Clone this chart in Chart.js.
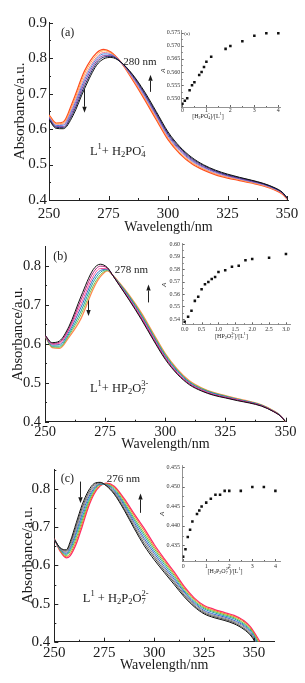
<!DOCTYPE html>
<html lang="en">
<head>
<meta charset="UTF-8">
<title>UV-vis titration of L1</title>
<script src="https://cdn.jsdelivr.net/npm/chart.js"></script>
<style>
    body { margin: 0; padding: 0; background: #fff; }
    #wrap { position: relative; width: 305px; height: 683px; overflow: hidden; background: #fff; }
    canvas { position: absolute; }
</style>
</head>
<body>
<div id="wrap">
    <canvas id="mainA" width="305" height="238" style="left:0;top:0"></canvas>
    <canvas id="mainB" width="305" height="222" style="left:0;top:234px"></canvas>
    <canvas id="mainC" width="305" height="227" style="left:0;top:456px"></canvas>
    <canvas id="insetA" width="150" height="110" style="left:150px;top:20px"></canvas>
    <canvas id="insetB" width="155" height="106" style="left:150px;top:236px"></canvas>
    <canvas id="insetC" width="150" height="125" style="left:150px;top:455px"></canvas>
</div>
<script>
// tick labels shared by the three spectra
const wlTicks = [250, 275, 300, 325, 350];
const absTicks = [0.4, 0.5, 0.6, 0.7, 0.8, 0.9];

// ---- panel (a): L1 + H2PO4-  (first addition -> last addition)
const wlA = [250, 253, 256, 260, 265, 270, 273, 276, 280, 285, 290, 295, 300, 305, 310, 315, 320, 325, 330, 335, 340, 345, 348, 350.5];
const specA = [
    [.626,.602,.601,.637,.715,.780,.798,.802,.790,.755,.707,.650,.592,.550,.520,.499,.484,.473,.464,.456,.447,.434,.422,.402],
    [.628,.605,.604,.644,.723,.786,.803,.805,.790,.753,.703,.646,.588,.547,.517,.497,.482,.471,.463,.455,.446,.433,.421,.402],
    [.631,.607,.607,.651,.732,.792,.807,.807,.790,.750,.700,.642,.585,.543,.514,.494,.480,.469,.461,.453,.445,.432,.420,.401],
    [.633,.610,.611,.658,.740,.798,.812,.810,.790,.748,.696,.639,.581,.540,.511,.492,.478,.468,.460,.452,.444,.431,.420,.401],
    [.635,.612,.614,.664,.748,.803,.816,.812,.790,.745,.692,.635,.577,.537,.508,.489,.475,.466,.458,.451,.442,.430,.419,.400],
    [.638,.615,.617,.671,.757,.809,.821,.815,.790,.743,.689,.631,.574,.533,.505,.487,.473,.464,.457,.449,.441,.429,.418,.400],
    [.640,.617,.620,.678,.765,.815,.825,.817,.790,.740,.685,.627,.570,.530,.502,.484,.471,.462,.455,.448,.440,.428,.417,.399]
];
const colorsA = ['#111111', '#1f2a6b', '#8a3fa0', '#4a7fe0', '#f08a9a', '#ffa040', '#ff4a20'];
const ratioA = [0, 0.1, 0.2, 0.3, 0.4, 0.5, 0.7, 0.8, 0.9, 1.0, 1.2, 1.8, 2.0, 2.5, 3.0, 3.5, 4.0];
const insetA = [0.5479, 0.5491, 0.5500, 0.5531, 0.5550, 0.5561, 0.5589, 0.5600, 0.5619, 0.5639, 0.5658, 0.5688, 0.5699, 0.5717, 0.5738, 0.5747, 0.5747];
const ratioTicksA = [0, 1, 2, 3, 4];
const insetTicksA = [0.550, 0.555, 0.560, 0.565, 0.570, 0.575];

// ---- panel (b): L1 + HP2O7 3-
const wlB = [250, 253, 256, 260, 265, 270, 273, 276, 278, 281, 285, 290, 295, 300, 305, 310, 315, 320, 325, 330, 335, 340, 345, 348, 350];
const specB = [
    [.622,.603,.607,.645,.722,.790,.804,.795,.777,.749,.712,.663,.610,.560,.522,.495,.479,.468,.461,.454,.448,.440,.426,.414,.400],
    [.622,.601,.604,.640,.713,.782,.799,.794,.777,.750,.714,.666,.613,.563,.524,.497,.480,.469,.462,.455,.449,.441,.426,.414,.400],
    [.621,.599,.601,.636,.703,.773,.793,.792,.777,.751,.716,.669,.616,.565,.526,.498,.482,.470,.463,.456,.449,.441,.427,.414,.400],
    [.621,.597,.598,.631,.694,.765,.788,.791,.777,.752,.719,.672,.619,.568,.529,.500,.483,.472,.464,.457,.450,.442,.427,.415,.400],
    [.621,.594,.594,.626,.684,.757,.783,.790,.777,.754,.721,.674,.621,.570,.531,.502,.484,.473,.465,.457,.451,.442,.427,.415,.400],
    [.620,.592,.591,.622,.675,.748,.777,.788,.777,.755,.723,.677,.624,.573,.533,.503,.486,.474,.466,.458,.451,.443,.428,.415,.400],
    [.620,.590,.588,.617,.665,.740,.772,.787,.777,.756,.725,.680,.627,.575,.535,.505,.487,.475,.467,.459,.452,.443,.428,.415,.400]
];
const colorsB = ['#111111', '#b0207a', '#ff4f9a', '#2f6fc0', '#1fa3a0', '#7cc24a', '#ff8a50'];
const ratioB = [0, 0.1, 0.2, 0.3, 0.4, 0.5, 0.6, 0.7, 0.8, 0.9, 1.0, 1.2, 1.4, 1.6, 1.8, 2.0, 2.5, 3.0];
const insetB = [0.5378, 0.5418, 0.5466, 0.5545, 0.5579, 0.5638, 0.5679, 0.5697, 0.5721, 0.5737, 0.5777, 0.5791, 0.5820, 0.5828, 0.5871, 0.5882, 0.5892, 0.5922];
const ratioTicksB = [0, 0.5, 1.0, 1.5, 2.0, 2.5, 3.0];
const insetTicksB = [0.54, 0.55, 0.56, 0.57, 0.58, 0.59, 0.60];

// ---- panel (c): L1 + H2P2O7 2-
const wlC = [250, 253, 256, 258, 261, 264, 267, 270, 273, 276, 280, 285, 290, 295, 300, 305, 310, 315, 320, 325, 330, 335, 340, 345, 348, 350, 353];
const specC = [
    [.668,.646,.641,.663,.712,.760,.795,.815,.818,.809,.787,.745,.697,.652,.615,.582,.550,.518,.492,.473,.463,.456,.447,.432,.418,.403,.360],
    [.668,.645,.638,.658,.704,.752,.789,.811,.817,.810,.790,.749,.702,.658,.621,.587,.555,.522,.495,.476,.466,.459,.450,.435,.421,.406,.366],
    [.669,.643,.635,.652,.696,.744,.783,.807,.815,.811,.793,.754,.708,.665,.626,.592,.559,.526,.499,.479,.469,.462,.453,.439,.424,.409,.371],
    [.669,.642,.632,.647,.688,.736,.777,.803,.814,.812,.796,.758,.713,.671,.632,.597,.564,.530,.502,.482,.472,.465,.456,.442,.427,.412,.377],
    [.669,.641,.629,.642,.681,.727,.770,.800,.813,.812,.799,.762,.719,.678,.638,.603,.569,.533,.505,.486,.476,.468,.460,.445,.431,.416,.383],
    [.669,.640,.626,.637,.673,.719,.764,.796,.812,.813,.802,.766,.724,.684,.644,.608,.574,.537,.508,.489,.479,.471,.463,.448,.434,.419,.389],
    [.670,.638,.623,.631,.665,.711,.758,.792,.810,.814,.805,.771,.730,.691,.649,.613,.578,.541,.512,.492,.482,.474,.466,.452,.437,.422,.394],
    [.670,.637,.620,.626,.657,.703,.752,.788,.809,.816,.808,.775,.735,.697,.655,.618,.583,.545,.515,.495,.485,.477,.469,.455,.440,.425,.400]
];
const colorsC = ['#111111', '#555555', '#8c8c8c', '#3a5fcf', '#24a7a7', '#6cbf3c', '#f07a20', '#ff2a6a'];
const ratioC = [0, 0.1, 0.2, 0.3, 0.4, 0.6, 0.7, 0.8, 1.0, 1.2, 1.4, 1.6, 1.8, 2.0, 2.5, 3.0, 3.5, 4.0];
const insetC = [0.4321, 0.4340, 0.4371, 0.4390, 0.4411, 0.4430, 0.4439, 0.4449, 0.4459, 0.4469, 0.4479, 0.4479, 0.4489, 0.4489, 0.4489, 0.4499, 0.4499, 0.4489];
const ratioTicksC = [0, 1, 2, 3, 4];
const insetTicksC = [0.435, 0.440, 0.445, 0.450, 0.455];

const serif = 'Liberation Serif';
Chart.defaults.font.family = serif;
Chart.defaults.color = '#1a1a1a';

// text notes and arrows per canvas (data coordinates)
const notes = {
    mainA: {
        texts: [
            { x: 255, y: 0.871, text: '(a)', size: 12 },
            { x: 281.2, y: 0.788, text: '280 nm', size: 11 },
            { x: 267.2, y: 0.536, text: 'L^1+ H_2PO_4^-', size: 12.5 }
        ],
        arrows: [{ x: 264.8, y1: 0.713, y2: 0.646 }, { x: 292.4, y1: 0.705, y2: 0.753 }]
    },
    mainB: {
        texts: [
            { x: 253.4, y: 0.824, text: '(b)', size: 12 },
            { x: 279, y: 0.790, text: '278 nm', size: 11 },
            { x: 268.7, y: 0.485, text: 'L^1+ HP_2O_7^{3-}', size: 12.5 }
        ],
        arrows: [{ x: 268, y1: 0.711, y2: 0.671 }, { x: 292.9, y1: 0.706, y2: 0.752 }]
    },
    mainC: {
        texts: [
            { x: 253.2, y: 0.827, text: '(c)', size: 12 },
            { x: 276.3, y: 0.827, text: '276 nm', size: 11 },
            { x: 264.3, y: 0.512, text: 'L^1 + H_2P_2O_7^{2-}', size: 12.5 }
        ],
        arrows: [{ x: 262.9, y1: 0.820, y2: 0.763 }, { x: 292.9, y1: 0.738, y2: 0.789 }]
    },
    insetA: {
        texts: [
            { x: 0.41, y: 0.5432, text: '[H_2PO_4^-]/[L^1]', size: 6 },
            { x: -0.8, y: 0.5605, text: 'A', size: 7, style: 'italic', rot: -Math.PI / 2 },
            { x: 0.08, y: 0.5745, text: '(a)', size: 5 }
        ]
    },
    insetB: {
        texts: [
            { x: 0.9, y: 0.5263, text: '[HP_2O_7^{3-}]/[L^1]', size: 6 },
            { x: -0.6, y: 0.5673, text: 'A', size: 7, style: 'italic', rot: -Math.PI / 2 }
        ]
    },
    insetC: {
        texts: [
            { x: 1.06, y: 0.4283, text: '[H_2P_2O_7^{2-}]/[L^1]', size: 6 },
            { x: -0.9, y: 0.443, text: 'A', size: 7, style: 'italic', rot: -Math.PI / 2 }
        ]
    }
};
const tickLen = { mainA: [4, 2], mainB: [4, 2], mainC: [4, 2], insetA: [2, 1], insetB: [2, 1], insetC: [2, 1] };

function richParts(src) {
    const parts = [];
    let i = 0;
    while (i < src.length) {
        const c = src[i];
        if (c === '^' || c === '_') {
            let t;
            if (src[i + 1] === '{') { const j = src.indexOf('}', i); t = src.slice(i + 2, j); i = j + 1; }
            else { t = src[i + 1]; i += 2; }
            parts.push({ t: t, m: c });
        } else {
            const last = parts[parts.length - 1];
            if (last && last.m === '') last.t += c; else parts.push({ t: c, m: '' });
            i++;
        }
    }
    return parts;
}

function drawRich(ctx, src, x, y, size, style) {
    const small = size * 0.68;
    let cx = x, subX = null, subW = 0;
    richParts(src).forEach(p => {
        const fs = p.m ? small : size;
        ctx.font = (style || 'normal') + ' ' + fs + 'px "' + serif + '"';
        const w = ctx.measureText(p.t).width;
        let dy = 0;
        if (p.m === '^') dy = -size * 0.42;
        if (p.m === '_') dy = size * 0.24;
        if (p.m === '^' && subX !== null) {
            // stack superscript over the preceding subscript
            ctx.fillText(p.t, subX, y + dy);
            cx = subX + Math.max(subW, w);
            subX = null;
            return;
        }
        ctx.fillText(p.t, cx, y + dy);
        if (p.m === '_') { subX = cx; subW = w; } else subX = null;
        cx += w;
    });
}

const notesPlugin = {
    id: 'notes',
    afterDraw(chart) {
        const n = notes[chart.canvas.id];
        if (!n) return;
        const ctx = chart.ctx, xs = chart.scales.x, ys = chart.scales.y;
        ctx.save();
        ctx.fillStyle = '#1a1a1a';
        ctx.strokeStyle = '#222';
        ctx.textBaseline = 'middle';
        (n.texts || []).forEach(t => {
            const px = xs.getPixelForValue(t.x), py = ys.getPixelForValue(t.y);
            if (t.rot) {
                ctx.save();
                ctx.translate(px, py);
                ctx.rotate(t.rot);
                ctx.textAlign = 'center';
                drawRich(ctx, t.text, 0, 0, t.size, t.style);
                ctx.restore();
            } else {
                drawRich(ctx, t.text, px, py, t.size, t.style);
            }
        });
        (n.arrows || []).forEach(a => {
            const px = Math.round(xs.getPixelForValue(a.x)) + 0.5;
            const y1 = ys.getPixelForValue(a.y1), y2 = ys.getPixelForValue(a.y2);
            const dir = y2 > y1 ? 1 : -1, hl = 6, hw = 2.2;
            ctx.lineWidth = 1;
            ctx.beginPath(); ctx.moveTo(px, y1); ctx.lineTo(px, y2 - dir * hl); ctx.stroke();
            ctx.beginPath(); ctx.moveTo(px, y2); ctx.lineTo(px - hw, y2 - dir * hl); ctx.lineTo(px + hw, y2 - dir * hl); ctx.closePath(); ctx.fill();
        });
        ctx.restore();
    }
};

// ticks pointing into the plot, with one minor tick between majors
const inTicks = {
    id: 'inTicks',
    afterDraw(chart) {
        const len = tickLen[chart.canvas.id];
        const ctx = chart.ctx, area = chart.chartArea;
        ctx.save();
        ctx.strokeStyle = chart.canvas.id.startsWith('inset') ? '#666' : '#222';
        ctx.lineWidth = 1;
        ['x', 'y'].forEach(ax => {
            const s = chart.scales[ax];
            const vals = s.ticks.map(t => t.value);
            const step = vals[1] - vals[0];
            const marks = vals.map(v => [v, len[0]]);
            for (let v = vals[0] - step / 2; v <= s.max + 1e-9; v += step) {
                if (v >= s.min) marks.push([v, len[1]]);
            }
            marks.forEach(([v, l]) => {
                const p = Math.round(s.getPixelForValue(v)) + 0.5;
                ctx.beginPath();
                if (ax === 'x') { ctx.moveTo(p, area.bottom); ctx.lineTo(p, area.bottom - l); }
                else { ctx.moveTo(area.left, p); ctx.lineTo(area.left + l, p); }
                ctx.stroke();
            });
        });
        ctx.restore();
    }
};

function fixedTicks(list) {
    return s => { s.ticks = list.filter(v => v >= s.min - 1e-9 && v <= s.max + 1e-9).map(v => ({ value: v })); };
}

function mainChart(id, wl, spec, colors, o) {
    const cv = document.getElementById(id);
    const W = cv.width, H = cv.height;
    return new Chart(cv, {
        type: 'line',
        data: {
            datasets: spec.map((vals, k) => ({
                data: wl.map((w, i) => ({ x: w, y: vals[i] })),
                borderColor: colors[k],
                borderWidth: k === spec.length - 1 ? 1.3 : 1,
                pointRadius: 0,
                cubicInterpolationMode: 'monotone',
                fill: false
            }))
        },
        options: {
            responsive: false,
            animation: false,
            events: [],
            layout: { padding: { top: o.area.top, right: W - o.area.right, left: 0, bottom: 0 } },
            plugins: { legend: { display: false }, tooltip: { enabled: false } },
            scales: {
                x: {
                    type: 'linear', min: 250, max: o.xMax,
                    afterBuildTicks: fixedTicks(wlTicks),
                    afterFit: s => { s.height = H - o.area.bottom; },
                    grid: { display: false, drawTicks: false },
                    border: { color: '#222', width: 1 },
                    ticks: { padding: o.xPad, font: { size: o.tickSize }, color: '#1a1a1a', callback: v => String(v) },
                    title: { display: true, text: 'Wavelength/nm', font: { size: 14 }, padding: { top: 0, bottom: o.xTitlePad }, color: '#1a1a1a' }
                },
                y: {
                    min: 0.4, max: o.yMax,
                    afterBuildTicks: fixedTicks(absTicks),
                    afterFit: s => { s.width = o.area.left; },
                    grid: { display: false, drawTicks: false },
                    border: { color: '#222', width: 1 },
                    ticks: { padding: o.yPad, font: { size: o.tickSize }, color: '#1a1a1a', callback: v => v.toFixed(1) },
                    title: { display: true, text: 'Absorbance/a.u.', font: { size: o.yTitleSize }, padding: { top: o.yTitlePad, bottom: 0 }, color: '#1a1a1a' }
                }
            }
        },
        plugins: [inTicks, notesPlugin]
    });
}

function insetChart(id, xs, ys, xTicks, yTicks, o) {
    const cv = document.getElementById(id);
    const W = cv.width, H = cv.height;
    return new Chart(cv, {
        type: 'scatter',
        data: {
            datasets: [{
                data: xs.map((x, i) => ({ x: x, y: ys[i] })),
                pointStyle: 'rect',
                pointRadius: 1.8,
                backgroundColor: '#111',
                borderWidth: 0
            }]
        },
        options: {
            responsive: false,
            animation: false,
            events: [],
            layout: { padding: { top: o.area.top, right: W - o.area.right, left: 0, bottom: 0 } },
            plugins: { legend: { display: false }, tooltip: { enabled: false } },
            scales: {
                x: {
                    type: 'linear', min: o.xMin, max: o.xMax,
                    afterBuildTicks: fixedTicks(xTicks),
                    afterFit: s => { s.height = H - o.area.bottom; },
                    grid: { display: false, drawTicks: false },
                    border: { color: '#777', width: 0.8 },
                    ticks: { padding: o.xPad, font: { size: 6 }, color: '#333', callback: v => v.toFixed(o.xDec) }
                },
                y: {
                    min: o.yMin, max: o.yMax,
                    afterBuildTicks: fixedTicks(yTicks),
                    afterFit: s => { s.width = o.area.left; },
                    grid: { display: false, drawTicks: false },
                    border: { color: '#777', width: 0.8 },
                    ticks: { padding: o.yPad, font: { size: 6 }, color: '#333', callback: v => v.toFixed(o.yDec) }
                }
            }
        },
        plugins: [inTicks, notesPlugin]
    });
}

mainChart('mainA', wlA, specA, colorsA, {
    area: { left: 49, top: 22.7, right: 288, bottom: 200 },
    xMax: 350.4, yMax: 0.9, tickSize: 15, xPad: 5, yPad: 2, xTitlePad: 2.6, yTitleSize: 15, yTitlePad: 11
});
mainChart('mainB', wlB, specB, colorsB, {
    area: { left: 45, top: 9, right: 286, bottom: 187.7 },
    xMax: 350.2, yMax: 0.849, tickSize: 14.5, xPad: 1.5, yPad: 4, xTitlePad: 3.6, yTitleSize: 14.5, yTitlePad: 9.6
});
mainChart('mainC', wlC, specC, colorsC, {
    area: { left: 54.3, top: 9, right: 274, bottom: 185.7 },
    xMax: 360, yMax: 0.853, tickSize: 15, xPad: 2.6, yPad: 4, xTitlePad: 8.9, yTitleSize: 15, yTitlePad: 19.3
});

insetChart('insetA', ratioA, insetA, ratioTicksA, insetTicksA, {
    area: { left: 31.7, top: 10.7, right: 130, bottom: 87 },
    xMin: -0.03, xMax: 4.07, xDec: 0, yMin: 0.5467, yMax: 0.5757, yDec: 3, xPad: 0, yPad: 1.5
});
insetChart('insetB', ratioB, insetB, ratioTicksB, insetTicksB, {
    area: { left: 32.7, top: 7, right: 140, bottom: 88.3 },
    xMin: -0.06, xMax: 3.12, xDec: 1, yMin: 0.5357, yMax: 0.601, yDec: 2, xPad: 1.4, yPad: 2.7
});
insetChart('insetC', ratioC, insetC, ratioTicksC, insetTicksC, {
    area: { left: 32.7, top: 10, right: 130, bottom: 106 },
    xMin: -0.02, xMax: 4.2, xDec: 0, yMin: 0.431, yMax: 0.4555, yDec: 3, xPad: 2, yPad: 2.7
});
</script>
</body>
</html>
